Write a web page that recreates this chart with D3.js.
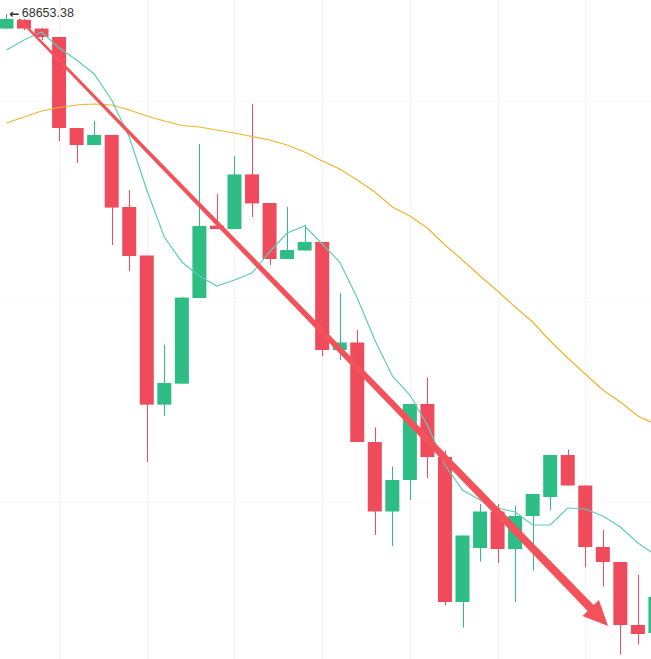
<!DOCTYPE html>
<html>
<head>
<meta charset="utf-8">
<script src="https://cdn.jsdelivr.net/npm/d3@7"></script>
<style>
  html, body { margin: 0; padding: 0; background: #ffffff; }
  svg { display: block; }
</style>
</head>
<body>
<svg id="chart" width="651" height="659"></svg>
<script>
// ---- data ----
const openP  = [68477,68582,68477,68376,67284,67080,67200,66336,65754,63964,64216,65244,66112,66072,66727,66384,65712,65814,65916,64620,64710,63516,62682,63060,63972,63336,61596,62244,62682,62232,62628,62856,63360,62994,62256,62076,61320,61224];
const highP  = [68653.38,68592,68484,68376,67284,67373,67200,66540,65754,64685,65256,67092,66492,66948,67574,66384,66338,66120,65916,65304,64860,63691,63222,63972,64291,63414,62394,62772,62772,62753,62892,63360,63424,62994,62460,62076,61920,61700];
const lowP   = [68470,68460,68340,67128,66864,67080,65880,65568,63276,63828,64216,65244,66072,66072,66216,65642,65712,65814,64543,64500,63516,62400,62268,62820,63084,61560,61290,62082,62064,61596,61972,62700,62994,62011,61782,60966,61086,61140];
const closeP = [68592,68477,68376,67284,67080,67200,66329,65748,63964,64224,65249,66108,66072,66727,66379,65712,65820,65916,64620,64710,63516,62682,63060,63972,63336,61596,62394,62682,62232,62628,62892,63360,62994,62256,62076,61320,61212,61656];
const maShort = [68220,68340,68436,68244,68100,67932,67620,67176,66540,65976,65676,65508,65388,65460,65544,65796,66024,66108,65892,65676,65244,64740,64308,64080,63720,63240,62940,62820,62724,62676,62520,62520,62724,62712,62628,62496,62304,62160];
const maLong  = [67344,67416,67488,67530,67560,67572,67560,67500,67428,67368,67314,67296,67260,67224,67182,67140,67080,66996,66888,66792,66660,66516,66336,66228,66084,65880,65700,65508,65328,65136,64956,64728,64524,64332,64140,63996,63828,63732];
const highLabel = "68653.38";
const trendFrom = [0.715, 68592];   // [candle index, price]
const trendTo   = [34.30, 61308];

// ---- setup ----
const W = 651, H = 659;
const n = openP.length;
const step = 17.54;
const x = d3.scaleLinear().domain([0, n - 1]).range([6.46, 6.46 + (n - 1) * step]);
const y = d3.scaleLinear().domain([68820 - 12 * H, 68820]).range([H, 0]);
const bodyW = 14;
const UP = "#2ebd85", DOWN = "#ef4b5c";

const svg = d3.select("#chart");
svg.append("rect").attr("width", W).attr("height", H).attr("fill", "#ffffff");

// faint grid
const gridIdx = d3.range(3, n, 5);
svg.append("g").selectAll("line").data(gridIdx).join("line")
  .attr("x1", d => Math.round(x(d)) + 0.5).attr("x2", d => Math.round(x(d)) + 0.5)
  .attr("y1", 0).attr("y2", H)
  .attr("stroke", "#f6f6f6").attr("stroke-width", 1);
const gridPrices = [67620, 65208, 62796];
svg.append("g").selectAll("line").data(gridPrices).join("line")
  .attr("x1", 0).attr("x2", W)
  .attr("y1", d => Math.round(y(d)) + 0.5).attr("y2", d => Math.round(y(d)) + 0.5)
  .attr("stroke", "#f8f8f8").attr("stroke-width", 1);

// candles
const candles = d3.range(n).map(i => ({i, o: openP[i], h: highP[i], l: lowP[i], c: closeP[i]}));
const g = svg.append("g");
g.selectAll("line.wick").data(candles).join("line")
  .attr("class", "wick")
  .attr("x1", d => Math.round(x(d.i)) + 0.5).attr("x2", d => Math.round(x(d.i)) + 0.5)
  .attr("y1", d => y(d.h)).attr("y2", d => y(d.l))
  .attr("stroke", d => d.c >= d.o ? UP : DOWN).attr("stroke-width", 1);
g.selectAll("rect.body").data(candles).join("rect")
  .attr("class", "body")
  .attr("x", d => x(d.i) - bodyW / 2)
  .attr("width", bodyW)
  .attr("y", d => y(Math.max(d.o, d.c)))
  .attr("height", d => Math.max(1, Math.abs(y(d.o) - y(d.c))))
  .attr("fill", d => d.c >= d.o ? UP : DOWN);

// moving averages
const line = d3.line().x((d, i) => x(i)).y(d => y(d));
svg.append("path").datum(maLong).attr("d", line)
  .attr("fill", "none").attr("stroke", "#ecb52e").attr("stroke-width", 1.2);
svg.append("path").datum(maShort).attr("d", line)
  .attr("fill", "none").attr("stroke", "#5fcdb5").attr("stroke-width", 1.2);

// highest price label
const hx = x(0), hy = y(highP[0]);
svg.append("text").attr("x", hx + 3).attr("y", hy + 4)
  .attr("font-family", "'DejaVu Sans', sans-serif").attr("font-size", 12).attr("font-weight", "bold")
  .attr("fill", "#333").text("←");
svg.append("text").attr("x", hx + 15.3).attr("y", hy + 3.6)
  .attr("font-family", "'Liberation Sans', Arial, sans-serif").attr("font-size", 12.5)
  .attr("fill", "#333").text(highLabel);

// trend arrow (tapered shaft + head)
const p0 = [x(trendFrom[0]), y(trendFrom[1])];
const p1 = [x(trendTo[0]), y(trendTo[1])];
const dx = p1[0] - p0[0], dy = p1[1] - p0[1];
const len = Math.hypot(dx, dy);
const ux = dx / len, uy = dy / len, nx = -uy, ny = ux;
const headLen = 25, headHalf = 11.5, w0 = 1.2, w1 = 4.2;
const b = [p1[0] - ux * headLen, p1[1] - uy * headLen];
const shaft = [
  [p0[0] + nx * w0, p0[1] + ny * w0],
  [b[0] + ux * 2 + nx * w1, b[1] + uy * 2 + ny * w1],
  [b[0] + ux * 2 - nx * w1, b[1] + uy * 2 - ny * w1],
  [p0[0] - nx * w0, p0[1] - ny * w0]
];
const head = [
  [b[0] + nx * headHalf, b[1] + ny * headHalf],
  p1,
  [b[0] - nx * headHalf, b[1] - ny * headHalf]
];
const ARROW = "#f4525a";
svg.append("path").attr("d", "M" + shaft.join("L") + "Z").attr("fill", ARROW);
svg.append("path").attr("d", "M" + head.join("L") + "Z").attr("fill", ARROW);
</script>
</body>
</html>
